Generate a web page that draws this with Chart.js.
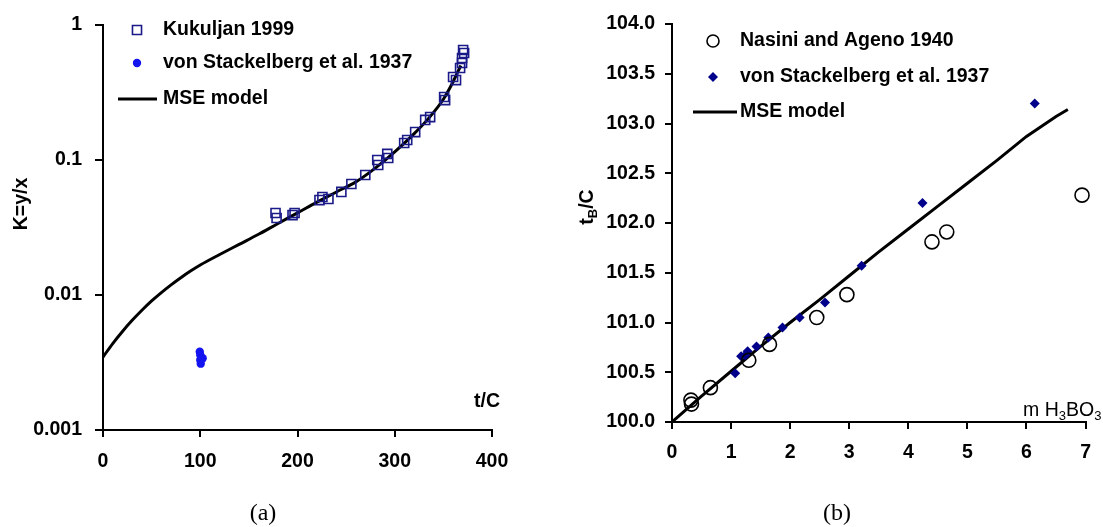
<!DOCTYPE html>
<html>
<head>
<meta charset="utf-8">
<script src="https://cdn.jsdelivr.net/npm/chart.js@4.4.0/dist/chart.umd.min.js"></script>
<style>
  body { margin: 0; background: #fff; }
  #wrap { position: relative; width: 1103px; height: 527px; overflow: hidden; }
  canvas { position: absolute; top: 0; }
  .cap { position: absolute; top: 499px; font: 24px "Liberation Serif", "Times New Roman", serif; transform: translateX(-50%); }
</style>
</head>
<body>
<div id="wrap">
  <canvas id="chartA" width="540" height="527" style="left:0;width:540px;height:527px"></canvas>
  <canvas id="chartB" width="563" height="527" style="left:540px;width:563px;height:527px"></canvas>
  <div class="cap" style="left:263px">(a)</div>
  <div class="cap" style="left:837px">(b)</div>
</div>
<script>
// ---- (a) K = y/x vs t ----
const kukT = [177.4, 178.5, 194.9, 197.0, 222.6, 225.6, 231.8, 245.1, 255.4, 269.7, 282.0, 283.0, 292.3, 293.3,
  309.7, 312.8, 321.0, 331.3, 336.4, 350.8, 351.8, 360.0, 363.0, 367.2, 369.2, 369.2, 370.3, 371.3];
const kukK = [0.0405, 0.0372, 0.0391, 0.0405, 0.0505, 0.0532, 0.0514, 0.058, 0.0664, 0.0774, 0.100, 0.0918, 0.111, 0.1035,
  0.1337, 0.1406, 0.161, 0.198, 0.208, 0.293, 0.278, 0.412, 0.391, 0.480, 0.523, 0.570, 0.653, 0.620];
const stackT = [99.5, 100, 100, 100.5, 102.5];
const stackK = [0.0038, 0.0036, 0.0033, 0.0031, 0.0034];
const mseT = [0, 10, 20, 30, 40, 50, 60, 70, 80, 90, 100, 120, 140, 160, 180, 200, 220, 240, 260, 280, 300, 320, 335, 350, 360, 368];
const mseK = [0.00347, 0.00437, 0.00537, 0.00649, 0.00771, 0.00904, 0.01042, 0.01189, 0.01343, 0.01503, 0.01667,
  0.01995, 0.02371, 0.02818, 0.03388, 0.04055, 0.04875, 0.05794, 0.06887, 0.0871, 0.1148, 0.1567, 0.2042, 0.2818, 0.3802, 0.5012];
const yTicksA = [0.001, 0.01, 0.1, 1];
const yLabelsA = ['0.001', '0.01', '0.1', '1'];

// ---- (b) boiling temperature vs molality ----
const nasM = [0.32, 0.33, 0.65, 1.30, 1.65, 2.45, 2.96, 4.40, 4.65, 6.94];
const nasTB = [100.22, 100.18, 100.345, 100.62, 100.78, 101.05, 101.28, 101.81, 101.91, 102.28];
const stM = [1.07, 1.17, 1.24, 1.28, 1.43, 1.63, 1.87, 2.16, 2.59, 3.21, 4.24, 6.14];
const stTB = [100.49, 100.66, 100.67, 100.71, 100.76, 100.85, 100.95, 101.05, 101.20, 101.57, 102.20, 103.20];
const mseM = [0, 0.5, 1.0, 1.5, 2.0, 2.5, 3.0, 3.5, 4.0, 4.5, 5.0, 5.5, 6.0, 6.5, 6.7];
const mseTB = [100.0, 100.26, 100.51, 100.76, 101.0, 101.23, 101.47, 101.71, 101.94, 102.17, 102.4, 102.63, 102.87, 103.07, 103.14];

const FAMILY = '"Liberation Sans", Arial, sans-serif';
const FONT_BOLD = 'bold 19.5px ' + FAMILY;
Chart.defaults.font.family = FAMILY;
Chart.defaults.font.size = 19.5;
Chart.defaults.font.weight = 'bold';
Chart.defaults.color = '#000';

function pts(xs, ys) {
  return xs.map((x, i) => ({ x: x, y: ys[i] }));
}

function drawMarker(ctx, ds, x, y) {
  const r = ds.legendRadius || ds.pointRadius;
  ctx.save();
  ctx.lineWidth = ds.pointBorderWidth;
  ctx.strokeStyle = ds.pointBorderColor;
  ctx.fillStyle = ds.pointBackgroundColor;
  ctx.beginPath();
  if (ds.pointStyle === 'rect') {
    const s = r * Math.SQRT1_2;
    ctx.rect(x - s, y - s, 2 * s, 2 * s);
  } else if (ds.pointStyle === 'rectRot') {
    ctx.moveTo(x, y - r); ctx.lineTo(x + r, y); ctx.lineTo(x, y + r); ctx.lineTo(x - r, y); ctx.closePath();
  } else {
    ctx.arc(x, y, r, 0, Math.PI * 2);
  }
  ctx.fill();
  if (ds.pointBorderWidth > 0) ctx.stroke();
  ctx.restore();
}

// legend drawn inside the plot, as in the original figure
const insideLegend = {
  id: 'insideLegend',
  afterDraw(chart, args, opts) {
    const ctx = chart.ctx;
    ctx.save();
    ctx.font = FONT_BOLD;
    ctx.textBaseline = 'middle';
    chart.data.datasets.forEach((ds, i) => {
      const y = opts.rows[i];
      if (ds.showLine) {
        ctx.strokeStyle = ds.borderColor;
        ctx.lineWidth = ds.borderWidth;
        ctx.beginPath();
        ctx.moveTo(opts.lineX0, y);
        ctx.lineTo(opts.lineX1, y);
        ctx.stroke();
      } else {
        drawMarker(ctx, ds, opts.markerX, y);
      }
      ctx.fillStyle = '#000';
      ctx.fillText(ds.label, opts.textX, y);
    });
    ctx.restore();
  }
};

// axis titles with subscripts
function richWidth(ctx, parts) {
  let w = 0;
  parts.forEach(p => { ctx.font = p.font; w += ctx.measureText(p.t).width; });
  return w;
}
function drawRich(ctx, parts, x, y) {
  parts.forEach(p => {
    ctx.font = p.font;
    ctx.fillText(p.t, x, y + (p.dy || 0));
    x += ctx.measureText(p.t).width;
  });
}
const axisTitles = {
  id: 'axisTitles',
  afterDraw(chart, args, opts) {
    const ctx = chart.ctx;
    ctx.save();
    ctx.fillStyle = '#000';
    ctx.textBaseline = 'middle';
    opts.items.forEach(it => {
      const w = richWidth(ctx, it.parts);
      if (it.rotate) {
        ctx.save();
        ctx.translate(it.x, it.y);
        ctx.rotate(-Math.PI / 2);
        drawRich(ctx, it.parts, -w / 2, 0);
        ctx.restore();
      } else {
        const x0 = it.align === 'right' ? it.x - w : it.x;
        drawRich(ctx, it.parts, x0, it.y);
      }
    });
    ctx.restore();
  }
};

function axisStyle(tickLen) {
  return {
    grid: { drawOnChartArea: false, drawTicks: true, tickLength: tickLen, color: '#000', lineWidth: 2 },
    border: { display: true, color: '#000', width: 2 }
  };
}

const SUB_BOLD = 'bold 13px ' + FAMILY;
const REG = '19.5px ' + FAMILY;
const SUB_REG = '13px ' + FAMILY;

new Chart(document.getElementById('chartA'), {
  type: 'scatter',
  data: {
    datasets: [
      {
        label: 'Kukuljan 1999',
        data: pts(kukT, kukK),
        pointStyle: 'rect', pointRadius: 6.4, pointBorderWidth: 1.6,
        pointBorderColor: '#1a1a88', pointBackgroundColor: 'rgba(0,0,0,0)', clip: false
      },
      {
        label: 'von Stackelberg et al. 1937',
        data: pts(stackT, stackK),
        pointStyle: 'circle', pointRadius: 4.2, pointBorderWidth: 0,
        pointBorderColor: '#1414f0', pointBackgroundColor: '#1414f0', clip: false
      },
      {
        label: 'MSE model',
        data: pts(mseT, mseK),
        showLine: true, pointRadius: 0, borderColor: '#000', borderWidth: 3,
        cubicInterpolationMode: 'monotone'
      }
    ]
  },
  options: {
    responsive: false, animation: false,
    layout: { padding: { left: 0, top: 25, right: 48, bottom: 57 } },
    plugins: {
      legend: { display: false }, tooltip: { enabled: false },
      insideLegend: { rows: [30, 63, 99], markerX: 137, textX: 163, lineX0: 118, lineX1: 157 },
      axisTitles: { items: [
        { parts: [{ t: 'K=y/x', font: FONT_BOLD }], x: 22, y: 204, rotate: true },
        { parts: [{ t: 't/C', font: FONT_BOLD }], x: 500, y: 402, align: 'right' }
      ] }
    },
    scales: {
      x: Object.assign(axisStyle(7), {
        type: 'linear', min: 0, max: 400,
        ticks: { stepSize: 100, padding: 13, maxRotation: 0, autoSkip: false },
        afterFit: s => { s.height = 40; }
      }),
      y: Object.assign(axisStyle(8), {
        type: 'logarithmic', min: 0.001, max: 1,
        ticks: { padding: 13, autoSkip: false, callback: (v, i) => yLabelsA[i] },
        afterBuildTicks: s => { s.ticks = yTicksA.map(v => ({ value: v })); },
        afterFit: s => { s.width = 103; }
      })
    }
  },
  plugins: [insideLegend, axisTitles]
});

new Chart(document.getElementById('chartB'), {
  type: 'scatter',
  data: {
    datasets: [
      {
        label: 'Nasini and Ageno 1940',
        data: pts(nasM, nasTB),
        pointStyle: 'circle', pointRadius: 7, legendRadius: 6, pointBorderWidth: 1.6,
        pointBorderColor: '#000', pointBackgroundColor: 'rgba(0,0,0,0)', clip: false
      },
      {
        label: 'von Stackelberg et al. 1937',
        data: pts(stM, stTB),
        pointStyle: 'rectRot', pointRadius: 5, pointBorderWidth: 0,
        pointBorderColor: '#00008b', pointBackgroundColor: '#00008b', clip: false
      },
      {
        label: 'MSE model',
        data: pts(mseM, mseTB),
        showLine: true, pointRadius: 0, borderColor: '#000', borderWidth: 3
      }
    ]
  },
  options: {
    responsive: false, animation: false,
    layout: { padding: { left: 0, top: 24, right: 6, bottom: 65 } },
    plugins: {
      legend: { display: false }, tooltip: { enabled: false },
      insideLegend: { rows: [41, 77, 112], markerX: 173, textX: 200, lineX0: 153, lineX1: 197 },
      axisTitles: { items: [
        { parts: [{ t: 't', font: FONT_BOLD }, { t: 'B', font: SUB_BOLD, dy: 5 }, { t: '/C', font: FONT_BOLD }],
          x: 48, y: 207, rotate: true },
        { parts: [{ t: 'm H', font: REG }, { t: '3', font: SUB_REG, dy: 5 }, { t: 'BO', font: REG }, { t: '3', font: SUB_REG, dy: 5 }],
          x: 483, y: 411 }
      ] }
    },
    scales: {
      x: Object.assign(axisStyle(7), {
        type: 'linear', min: 0, max: 7,
        ticks: { stepSize: 1, padding: 12, maxRotation: 0, autoSkip: false },
        afterFit: s => { s.height = 40; }
      }),
      y: Object.assign(axisStyle(7), {
        type: 'linear', min: 100, max: 104,
        ticks: { stepSize: 0.5, padding: 10, autoSkip: false, callback: v => v.toFixed(1) },
        afterFit: s => { s.width = 132; }
      })
    }
  },
  plugins: [insideLegend, axisTitles]
});
</script>
</body>
</html>
